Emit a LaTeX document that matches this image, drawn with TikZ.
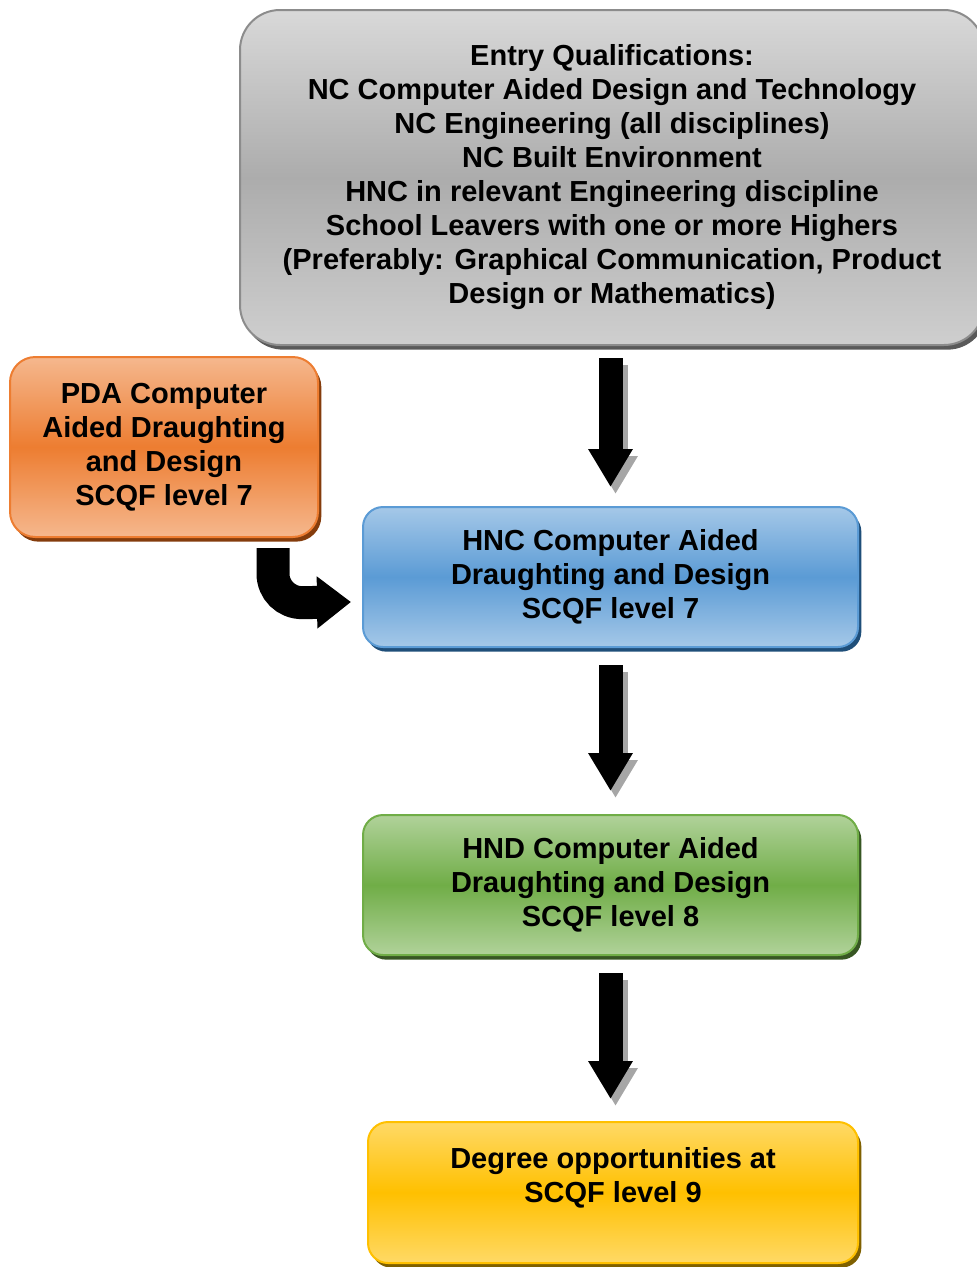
\documentclass[tikz,border=0pt]{standalone}
\usepackage{fontspec}
\setmainfont{Liberation Sans}
\usetikzlibrary{arrows.meta,calc,shadows}

\definecolor{grayline}{RGB}{140,140,140}
\definecolor{grayshade}{RGB}{90,90,90}
\definecolor{orangeline}{RGB}{237,125,49}
\definecolor{orangeshade}{RGB}{132,60,12}
\definecolor{blueline}{RGB}{91,155,213}
\definecolor{blueshade}{RGB}{31,78,121}
\definecolor{greenline}{RGB}{112,173,71}
\definecolor{greenshade}{RGB}{55,86,35}
\definecolor{yellowline}{RGB}{255,192,0}
\definecolor{yellowshade}{RGB}{127,96,0}

\begin{document}
\begin{tikzpicture}[x=0.75pt,y=0.75pt,yscale=-1,xscale=1,
  stagebox/.style={draw, line width=1.5pt, rounded corners=15pt, align=center,
    font=\fontsize{21.75}{25.5}\selectfont\bfseries, inner sep=0pt},
  bigarrow/.style={line width=18pt, -{Triangle[length=28.5pt,width=31.5pt]}},
  bentarrow/.style={line width=24.75pt, rounded corners=22pt, -{Triangle[length=25.5pt,width=37.5pt]}}]
\useasboundingbox (0,0) rectangle (976,1267);

%Shape: Rounded Rect [entry]
\node (entry) [stagebox, rounded corners=30pt, minimum width=558pt, minimum height=251.25pt,
  draw=grayline, top color=gray!30, bottom color=gray!38, middle color=gray!65,
  general shadow={fill=grayshade, shadow xshift=2.5pt, shadow yshift=-3.5pt}]
  at (612,177.5) {Entry Qualifications:\\NC Computer Aided Design and Technology\\
  NC Engineering (all disciplines)\\NC Built Environment\\
  HNC in relevant Engineering discipline\\School Leavers with one or more Highers\\
  (Preferably: Graphical Communication, Product\\Design or Mathematics)};

%Shape: Rounded Rect [pda]
\node (pda) [stagebox, rounded corners=19pt, minimum width=231pt, minimum height=135pt,
  draw=orangeline, top color=orangeline!55, bottom color=orangeline!55, middle color=orangeline,
  general shadow={fill=orangeshade, shadow xshift=2.5pt, shadow yshift=-3.5pt}]
  at (164,447) {PDA Computer\\Aided Draughting\\and Design\\SCQF level 7};

%Shape: Rounded Rect [hnc]
\node (hnc) [stagebox, minimum width=371.25pt, minimum height=105pt,
  draw=blueline, top color=blueline!55, bottom color=blueline!55, middle color=blueline,
  general shadow={fill=blueshade, shadow xshift=2.5pt, shadow yshift=-3.5pt}]
  at (610.5,577) {HNC Computer Aided\\Draughting and Design\\SCQF level 7};

%Shape: Rounded Rect [hnd]
\node (hnd) [stagebox, minimum width=371.25pt, minimum height=105pt,
  draw=greenline, top color=greenline!55, bottom color=greenline!55, middle color=greenline,
  general shadow={fill=greenshade, shadow xshift=2.5pt, shadow yshift=-3.5pt}]
  at (610.5,885) {HND Computer Aided\\Draughting and Design\\SCQF level 8};

%Shape: Rounded Rect [degree]
\node (degree) [stagebox, minimum width=367.5pt, minimum height=105.75pt,
  draw=yellowline, top color=yellowline!60, bottom color=yellowline!60, middle color=yellowline,
  general shadow={fill=yellowshade, shadow xshift=2.5pt, shadow yshift=-3.5pt}]
  at (613,1192.5) {Degree opportunities at\\SCQF level 9\\\phantom{S}};

%Block Arrows: shadows
\begin{scope}[transform canvas={shift={(5,-7)}}]
\draw [bigarrow, gray!70] ($(hnc.north |- entry.south)+(0,12)$) -- ($(hnc.north)+(0,-19)$);
\draw [bigarrow, gray!70] ($(hnc.south)+(0,17)$) -- ($(hnd.north)+(0,-23)$);
\draw [bigarrow, gray!70] ($(hnd.south)+(0,17)$) -- ($(hnd.south |- degree.north)+(0,-22)$);
\end{scope}

%Block Arrows
\draw [bigarrow] ($(hnc.north |- entry.south)+(0,12)$) -- ($(hnc.north)+(0,-19)$);
\draw [bigarrow] ($(hnc.south)+(0,17)$) -- ($(hnd.north)+(0,-23)$);
\draw [bigarrow] ($(hnd.south)+(0,17)$) -- ($(hnd.south |- degree.north)+(0,-22)$);

%Bent Arrow
\coordinate (bend) at ($(pda.south east)+(-46,65)$);
\draw [bentarrow] ($(pda.south east)+(-46,10)$) -- (bend) -- ($(hnc.west)+(-11,25)$);
\end{tikzpicture}
\end{document}
